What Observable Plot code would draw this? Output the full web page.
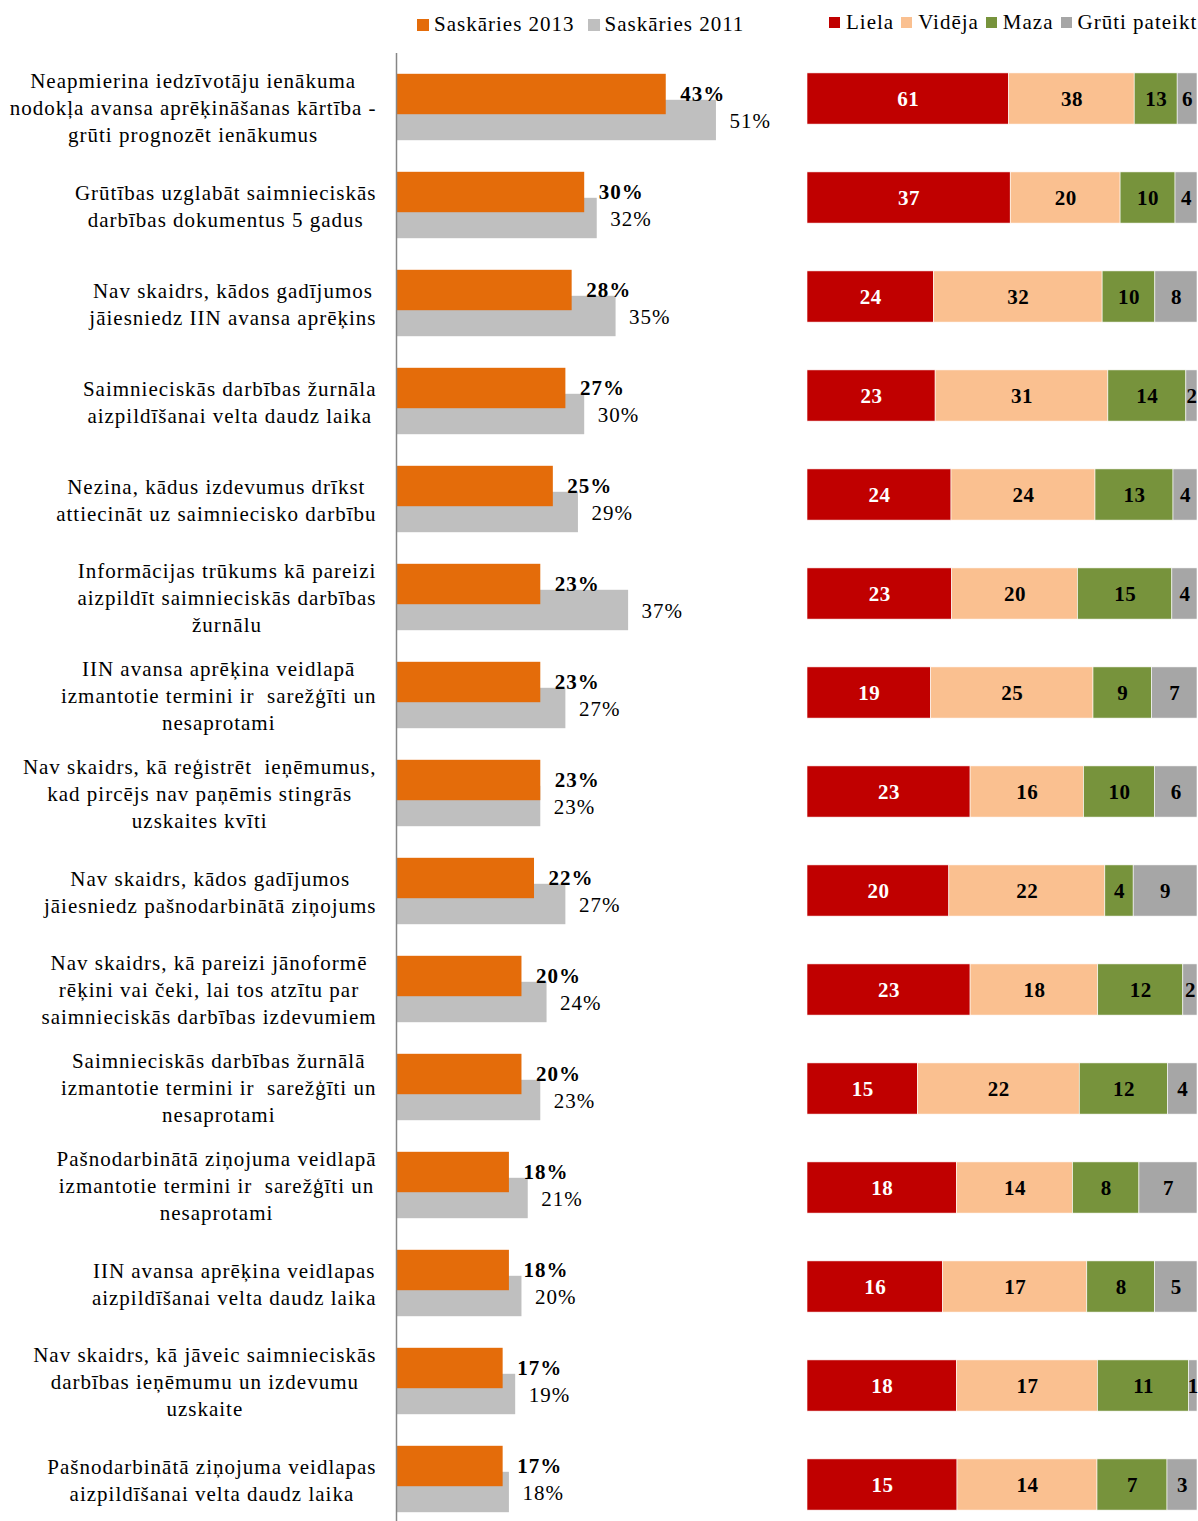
<!DOCTYPE html>
<html><head><meta charset="utf-8">
<script src="https://cdn.jsdelivr.net/npm/d3@7"></script>
<script src="https://cdn.jsdelivr.net/npm/@observablehq/plot@0.6"></script>
<style>
body{margin:0;background:#fff;font-family:"Liberation Serif",serif;}
#wrap{position:relative;width:1198px;height:1521px;overflow:hidden;background:#fff;}
#left{position:absolute;left:0;top:0;width:800px;}
#right{position:absolute;left:800px;top:0;width:398px;}
#leg1{position:absolute;left:417px;top:8px;width:max-content;}
#leg2{position:absolute;left:829px;top:6px;width:max-content;}
.lg-swatches{font-family:"Liberation Serif",serif !important;font-size:21px !important;color:#000;letter-spacing:1px;margin:0 !important;flex-wrap:nowrap !important;white-space:nowrap;}
.lg-swatch{margin-right:13px !important;}
.lg-swatch > svg{margin-right:5px !important;}
#leg2 .lg-swatch{margin-right:7px !important;}
#leg2 .lg-swatch > svg{margin-right:6px !important;}
</style></head><body>
<div id="wrap"><div id="left"></div><div id="right"></div><div id="leg1"></div><div id="leg2"></div></div>
<script>
const problems = [
  "Neapmierina iedzīvotāju ienākuma\nnodokļa avansa aprēķināšanas kārtība -\ngrūti prognozēt ienākumus",
  "Grūtības uzglabāt saimnieciskās\ndarbības dokumentus 5 gadus",
  "Nav skaidrs, kādos gadījumos\njāiesniedz IIN avansa aprēķins",
  "Saimnieciskās darbības žurnāla\naizpildīšanai velta daudz laika",
  "Nezina, kādus izdevumus drīkst\nattiecināt uz saimniecisko darbību",
  "Informācijas trūkums kā pareizi\naizpildīt saimnieciskās darbības\nžurnālu",
  "IIN avansa aprēķina veidlapā\nizmantotie termini ir  sarežģīti un\nnesaprotami",
  "Nav skaidrs, kā reģistrēt  ieņēmumus,\nkad pircējs nav paņēmis stingrās\nuzskaites kvīti",
  "Nav skaidrs, kādos gadījumos\njāiesniedz pašnodarbinātā ziņojums",
  "Nav skaidrs, kā pareizi jānoformē\nrēķini vai čeki, lai tos atzītu par\nsaimnieciskās darbības izdevumiem",
  "Saimnieciskās darbības žurnālā\nizmantotie termini ir  sarežģīti un\nnesaprotami",
  "Pašnodarbinātā ziņojuma veidlapā\nizmantotie termini ir  sarežģīti un\nnesaprotami",
  "IIN avansa aprēķina veidlapas\naizpildīšanai velta daudz laika",
  "Nav skaidrs, kā jāveic saimnieciskās\ndarbības ieņēmumu un izdevumu\nuzskaite",
  "Pašnodarbinātā ziņojuma veidlapas\naizpildīšanai velta daudz laika"
];
const contact2013 = [43, 30, 28, 27, 25, 23, 23, 23, 22, 20, 20, 18, 18, 17, 17];
const contact2011 = [51, 32, 35, 30, 29, 37, 27, 23, 27, 24, 23, 21, 20, 19, 18];
const seriesLeft = ["Saskāries 2013", "Saskāries 2011"];
const colorsLeft = ["#E46C0A", "#BFBFBF"];

const sizeLiela  = [61, 37, 24, 23, 24, 23, 19, 23, 20, 23, 15, 18, 16, 18, 15];
const sizeVideja = [38, 20, 32, 31, 24, 20, 25, 16, 22, 18, 22, 14, 17, 17, 14];
const sizeMaza   = [13, 10, 10, 14, 13, 15,  9, 10,  4, 12, 12,  8,  8, 11,  7];
const sizeGruti  = [ 6,  4,  8,  2,  4,  4,  7,  6,  9,  2,  4,  7,  5,  1,  3];
const seriesRight = ["Liela", "Vidēja", "Maza", "Grūti pateikt"];
const colorsRight = ["#C00000", "#FAC090", "#77933C", "#A6A6A6"];

const FONT = "Liberation Serif";

const leftData = problems.map((p, i) => ({problem: p, v2013: contact2013[i], v2011: contact2011[i]}));
const rightArrays = [sizeLiela, sizeVideja, sizeMaza, sizeGruti];
const rightData = [];
problems.forEach((p, i) => seriesRight.forEach((s, j) => rightData.push({problem: p, size: s, value: rightArrays[j][i]})));

const leftPlot = Plot.plot({
  width: 800, height: 1532,
  marginLeft: 396, marginRight: 0, marginTop: 53, marginBottom: 0,
  x: {domain: [0, 64.4], axis: null},
  y: {domain: problems, axis: null, padding: 0},
  style: {fontFamily: FONT, fontSize: "21px", background: "transparent", color: "#000", overflow: "visible", letterSpacing: "1px"},
  marks: [
    Plot.barX(leftData, {x: "v2011", y: "problem", fill: colorsLeft[1], insetTop: 28.8, insetBottom: 28.8, dy: 13}),
    Plot.barX(leftData, {x: "v2013", y: "problem", fill: colorsLeft[0], insetTop: 28.8, insetBottom: 28.8, dy: -13}),
    Plot.text(leftData, {x: "v2013", y: "problem", text: d => d.v2013 + "%", dx: 14, dy: -13, textAnchor: "start", fontWeight: "bold", fill: "#000"}),
    Plot.text(leftData, {x: "v2011", y: "problem", text: d => d.v2011 + "%", dx: 13, dy: 14, textAnchor: "start", fill: "#000"}),
    Plot.text(leftData, {y: "problem", text: "problem", frameAnchor: "left", dx: -20, dy: -1, textAnchor: "end", lineHeight: 1.29, fill: "#000"}),
    Plot.ruleX([0], {stroke: "#868686", strokeWidth: 1.5})
  ]
});
document.getElementById("left").appendChild(leftPlot);

// center the lines of each (multi-line) label inside its right-aligned block
leftPlot.querySelectorAll("text").forEach(t => {
  const spans = t.querySelectorAll("tspan");
  if (spans.length < 2) return;
  let w = 0;
  spans.forEach(s => { w = Math.max(w, s.getComputedTextLength()); });
  t.setAttribute("text-anchor", "middle");
  t.style.textAnchor = "middle";
  spans.forEach(s => s.setAttribute("x", (-w / 2).toFixed(1)));
});

const rightPlot = Plot.plot({
  width: 398, height: 1539,
  marginLeft: 7, marginRight: 1, marginTop: 43, marginBottom: 0,
  x: {axis: null},
  y: {domain: problems, axis: null, padding: 0},
  color: {domain: seriesRight, range: colorsRight},
  style: {fontFamily: FONT, fontSize: "21px", background: "transparent", overflow: "visible", letterSpacing: "0.5px"},
  marks: [
    Plot.barX(rightData, Plot.stackX({x: "value", y: "problem", fill: "size", offset: "normalize", insetTop: 23.9, insetBottom: 23.9, stroke: "#fff", strokeWidth: 0.6})),
    Plot.text(rightData, Plot.stackX({x: "value", y: "problem", z: "size", offset: "normalize", text: d => String(d.value), fill: d => d.size === "Liela" ? "white" : "black", fontWeight: "bold"}))
  ]
});
document.getElementById("right").appendChild(rightPlot);

document.getElementById("leg1").appendChild(Plot.legend({color: {domain: seriesLeft, range: colorsLeft}, swatchSize: 12, className: "lg"}));
document.getElementById("leg2").appendChild(Plot.legend({color: {domain: seriesRight, range: colorsRight}, swatchSize: 11, className: "lg"}));
</script>
</body></html>
